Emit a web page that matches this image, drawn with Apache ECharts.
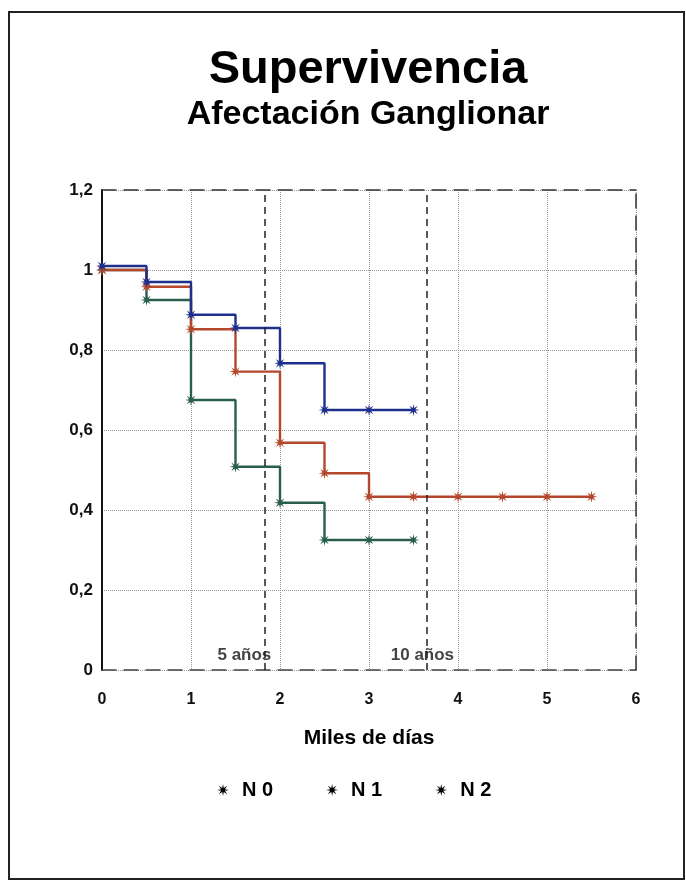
<!DOCTYPE html>
<html>
<head>
<meta charset="utf-8">
<script src="https://cdn.jsdelivr.net/npm/echarts@6/dist/echarts.min.js"></script>
<style>
  html, body { margin: 0; padding: 0; background: #fff; }
  #chart { width: 686px; height: 882px; }
</style>
</head>
<body>
<div id="chart"></div>
<script>
// miles de días
const times = [0, 0.5, 1, 1.5, 2, 2.5, 3, 3.5, 4, 4.5, 5, 5.5]
const n0 = [1.01, 0.97, 0.888, 0.855, 0.767, 0.65, 0.65, 0.65]
const n1 = [1.0, 0.958, 0.852, 0.746, 0.568, 0.492, 0.433, 0.433, 0.433, 0.433, 0.433, 0.433]
const n2 = [1.0, 0.925, 0.675, 0.508, 0.418, 0.325, 0.325, 0.325]
const seriesNames = ['N 0', 'N 1', 'N 2']
const xTickLabels = ['0', '1', '2', '3', '4', '5', '6']
const yTickLabels = ['0', '0,2', '0,4', '0,6', '0,8', '1', '1,2']
// 5 y 10 años en miles de días
const yearMarks = [1.826, 3.652]
const yearLabels = ['5 años', '10 años']

const font = '"Liberation Sans", Arial, sans-serif'
const star = 'path://M10,0 L3.23,1.34 L7.07,7.07 L1.34,3.23 L0,10 L-1.34,3.23 L-7.07,7.07 L-3.23,1.34 L-10,0 L-3.23,-1.34 L-7.07,-7.07 L-1.34,-3.23 L0,-10 L1.34,-3.23 L7.07,-7.07 L3.23,-1.34 Z'

const pairs = (vals) => vals.map((v, i) => [times[i], v])

const chart = echarts.init(document.getElementById('chart'))

const mkSeries = (name, vals, color, extra) => Object.assign({
  name: name,
  type: 'line',
  step: 'end',
  data: pairs(vals),
  symbol: star,
  symbolSize: 12,
  showAllSymbol: true,
  lineStyle: { color: color, width: 2.4 },
  itemStyle: { color: color },
  emphasis: { disabled: true },
}, extra || {})

chart.setOption({
  animation: false,
  backgroundColor: '#fff',
  textStyle: { fontFamily: font },
  grid: { left: 102, right: 50, top: 190, bottom: 212 },
  legend: {
    left: 212,
    top: 775,
    itemWidth: 28,
    itemHeight: 12,
    itemGap: 53,
    data: seriesNames.map((n) => ({ name: n, icon: star, itemStyle: { color: '#000' } })),
    textStyle: { fontSize: 20, fontWeight: 'bold', color: '#000', fontFamily: font },
  },
  xAxis: [
    {
      type: 'value',
      min: 0,
      max: 6,
      interval: 1,
      name: 'Miles de días',
      nameLocation: 'middle',
      nameGap: 58,
      nameTextStyle: { fontSize: 21, fontWeight: 'bold', color: '#000', fontFamily: font },
      axisLine: { show: true, onZero: false, lineStyle: { color: '#444', width: 1.5, type: [14, 8] } },
      axisTick: { show: false },
      axisLabel: {
        fontSize: 16,
        fontWeight: 'bold',
        color: '#111',
        margin: 22,
        formatter: (v) => xTickLabels[Math.round(v)],
      },
      splitLine: { show: true, lineStyle: { type: 'dotted', color: '#999', width: 1 } },
    },
    {
      type: 'value',
      position: 'top',
      min: 0,
      max: 6,
      interval: 1,
      axisLine: { show: true, onZero: false, lineStyle: { color: '#333', width: 1.5, type: [14, 8] } },
      axisTick: { show: false },
      axisLabel: { show: false },
      splitLine: { show: false },
    },
  ],
  yAxis: [
    {
      type: 'value',
      min: 0,
      max: 1.2,
      interval: 0.2,
      axisLine: { show: true, onZero: false, lineStyle: { color: '#111', width: 2 } },
      axisTick: { show: false },
      axisLabel: {
        fontSize: 17,
        fontWeight: 'bold',
        color: '#111',
        margin: 9,
        formatter: (v) => yTickLabels[Math.round(v * 5)],
      },
      splitLine: { show: true, lineStyle: { type: 'dotted', color: '#999', width: 1 } },
    },
    {
      type: 'value',
      position: 'right',
      min: 0,
      max: 1.2,
      interval: 0.2,
      axisLine: { show: true, onZero: false, lineStyle: { color: '#333', width: 1.5, type: [14, 8] } },
      axisTick: { show: false },
      axisLabel: { show: false },
      splitLine: { show: false },
    },
  ],
  series: [
    mkSeries(seriesNames[2], n2, '#2a5e4c', {
      markLine: {
        silent: true,
        symbol: 'none',
        label: { show: false },
        lineStyle: { color: '#222', width: 1.5, type: [7, 5] },
        data: yearMarks.map((x) => ({ xAxis: x })),
      },
    }),
    mkSeries(seriesNames[1], n1, '#b4472c'),
    mkSeries(seriesNames[0], n0, '#1f2f8c'),
  ],
  graphic: [
    {
      type: 'rect',
      id: 'frame',
      shape: { x: 9, y: 12, width: 675, height: 867 },
      style: { fill: 'none', stroke: '#222', lineWidth: 2 },
    },
    {
      type: 'text',
      id: 'title',
      x: 368,
      y: 47,
      style: { text: 'Supervivencia', fill: '#000', textAlign: 'center', font: 'bold 47px ' + font },
    },
    {
      type: 'text',
      id: 'subtitle',
      x: 368,
      y: 98,
      style: { text: 'Afectación Ganglionar', fill: '#000', textAlign: 'center', font: 'bold 34px ' + font },
    },
  ],
})

// textos de 5 y 10 años junto a las líneas
const labelX = [1.6, 3.6]
chart.setOption({
  graphic: yearLabels.map((t, i) => {
    const p = chart.convertToPixel({ gridIndex: 0 }, [labelX[i], 0])
    return {
      type: 'text',
      id: 'yl' + i,
      x: p[0],
      y: p[1] - 23,
      style: { text: t, fill: '#444', textAlign: 'center', font: 'bold 17px ' + font },
    }
  }),
})
</script>
</body>
</html>
